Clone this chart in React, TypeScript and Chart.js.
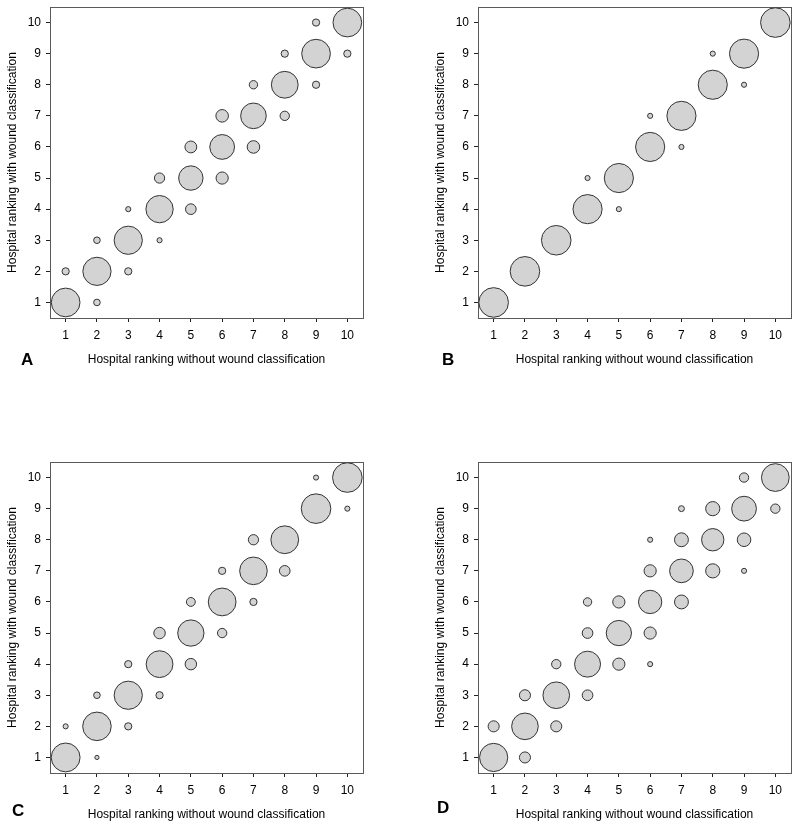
import React, { useEffect, useRef } from "react";
import { Chart, registerables } from "chart.js";

Chart.register(...registerables);

// ---- data ----
const rankTicks = [1, 2, 3, 4, 5, 6, 7, 8, 9, 10];
const xTitle = "Hospital ranking without wound classification";
const yTitle = "Hospital ranking with wound classification";

// share (%) of each (without, with) ranking pair; bubble area is proportional to it
const panelAx = [1, 1, 2, 2, 2, 3, 3, 3, 4, 4, 4, 5, 5, 5, 6, 6, 6, 7, 7, 7, 8, 8, 8, 9, 9, 9, 10, 10];
const panelAy = [1, 2, 1, 2, 3, 2, 3, 4, 3, 4, 5, 4, 5, 6, 5, 6, 7, 6, 7, 8, 7, 8, 9, 8, 9, 10, 9, 10];
const panelAshare = [94, 6, 5, 91, 5, 6, 91, 3, 3, 85, 12, 13, 68, 16, 17, 70, 18, 18, 75, 8, 10, 82, 6, 6, 94, 6, 6, 94];

const panelBx = [1, 2, 3, 4, 4, 5, 5, 6, 6, 7, 7, 8, 8, 9, 9, 10];
const panelBy = [1, 2, 3, 4, 5, 4, 5, 6, 7, 6, 7, 8, 9, 8, 9, 10];
const panelBshare = [100, 100, 100, 97, 3, 3, 97, 97, 3, 3, 97, 97, 3, 3, 97, 100];

const panelCx = [1, 1, 2, 2, 2, 3, 3, 3, 4, 4, 4, 5, 5, 5, 6, 6, 6, 7, 7, 7, 8, 8, 9, 9, 10, 10];
const panelCy = [1, 2, 1, 2, 3, 2, 3, 4, 3, 4, 5, 4, 5, 6, 5, 6, 7, 6, 7, 8, 7, 8, 9, 10, 9, 10];
const panelCshare = [95, 3, 2, 93, 5, 6, 91, 6, 6, 82, 15, 15, 79, 9, 10, 88, 6, 6, 87, 12, 13, 88, 100, 3, 3, 100];

const panelDx = [1, 1, 2, 2, 2, 3, 3, 3, 4, 4, 4, 4, 5, 5, 5, 6, 6, 6, 6, 6, 7, 7, 7, 7, 8, 8, 8, 9, 9, 9, 9, 10, 10];
const panelDy = [1, 2, 1, 2, 3, 2, 3, 4, 3, 4, 5, 6, 4, 5, 6, 4, 5, 6, 7, 8, 6, 7, 8, 9, 7, 8, 9, 7, 8, 9, 10, 9, 10];
const panelDshare = [91, 14, 14, 81, 14, 14, 81, 10, 13, 77, 13, 8, 17, 73, 17, 3, 17, 62, 17, 3, 22, 64, 22, 4, 23, 57, 23, 3, 21, 70, 10, 10, 88];

// ---- styling ----
const FONT = "'Liberation Sans', Arial, Helvetica, sans-serif";
const R_FULL = 14.8;

const framePlugin = {
  id: "frame",
  beforeDatasetsDraw(chart: any) {
    const { ctx, chartArea: a } = chart;
    ctx.save();
    ctx.strokeStyle = "#5a5a5a";
    ctx.lineWidth = 1;
    ctx.strokeRect(Math.round(a.left) + 0.5, Math.round(a.top) + 0.5, Math.round(a.right - a.left), Math.round(a.bottom - a.top));
    ctx.restore();
  },
};

const letterPlugin = {
  id: "panelLetter",
  afterDraw(chart: any, _args: any, opts: any) {
    const { ctx } = chart;
    ctx.save();
    ctx.fillStyle = "#000";
    ctx.font = `bold 17px ${FONT}`;
    ctx.textAlign = "left";
    ctx.textBaseline = "alphabetic";
    ctx.fillText(opts.text, opts.x, opts.y);
    ctx.restore();
  },
};

type PanelProps = {
  xs: number[];
  ys: number[];
  share: number[];
  letter: string;
  left: number;
  top: number;
  letterX: number;
  letterY: number;
};

function zeroPad(s: any) {
  s.paddingTop = 0;
  s.paddingBottom = 0;
  s.paddingLeft = 0;
  s.paddingRight = 0;
}

function Panel({ xs, ys, share, letter, left, top, letterX, letterY }: PanelProps) {
  const ref = useRef<HTMLCanvasElement | null>(null);

  useEffect(() => {
    if (!ref.current) return;
    const tickFont = { family: FONT, size: 12 };
    const setTicks = (s: any) => {
      s.ticks = rankTicks.map((v) => ({ value: v }));
    };
    const chart = new Chart(ref.current, {
      type: "bubble",
      data: {
        datasets: [
          {
            data: xs.map((x, i) => ({ x, y: ys[i], r: R_FULL * Math.sqrt(share[i] / 100) })),
            backgroundColor: "#d3d3d3",
            borderColor: "#333333",
            borderWidth: 1,
            hoverRadius: 0,
            clip: false as any,
          },
        ],
      },
      options: {
        responsive: false,
        animation: false,
        events: [],
        layout: { autoPadding: false, padding: { top: 7, right: 9, left: 0, bottom: 0 } },
        plugins: {
          legend: { display: false },
          tooltip: { enabled: false },
          panelLetter: { text: letter, x: letterX, y: letterY },
        } as any,
        scales: {
          x: {
            type: "linear",
            min: 0.5,
            max: 10.5,
            afterBuildTicks: setTicks,
            afterFit: (s: any) => {
              s.height = 55;
              zeroPad(s);
            },
            grid: { drawOnChartArea: false, drawTicks: true, tickLength: 4, color: "#222" },
            border: { display: false },
            ticks: { padding: 6, color: "#000", font: tickFont, autoSkip: false, maxRotation: 0, callback: (v: any) => String(v) },
            title: { display: true, text: xTitle, color: "#000", font: tickFont, padding: { top: 0, bottom: 6 } },
          },
          y: {
            type: "linear",
            min: 0.5,
            max: 10.5,
            afterBuildTicks: setTicks,
            afterFit: (s: any) => {
              s.width = 50;
              zeroPad(s);
            },
            grid: { drawOnChartArea: false, drawTicks: true, tickLength: 4, color: "#222" },
            border: { display: false },
            ticks: { padding: 5, color: "#000", font: tickFont, autoSkip: false, callback: (v: any) => String(v) },
            title: { display: true, text: yTitle, color: "#000", font: tickFont, padding: { top: 5, bottom: 0 } },
          },
        },
      },
      plugins: [framePlugin, letterPlugin],
    } as any);
    return () => chart.destroy();
  }, [xs, ys, share, letter, letterX, letterY]);

  return (
    <div style={{ position: "absolute", left, top, width: 372, height: 373 }}>
      <canvas ref={ref} width={372} height={373} style={{ display: "block", width: 372, height: 373 }} />
    </div>
  );
}

export default function App() {
  return (
    <div style={{ position: "absolute", left: 0, top: 0, width: 800, height: 828, background: "#fff", overflow: "hidden" }}>
      <Panel xs={panelAx} ys={panelAy} share={panelAshare} letter="A" left={0} top={0} letterX={21} letterY={365} />
      <Panel xs={panelBx} ys={panelBy} share={panelBshare} letter="B" left={428} top={0} letterX={14} letterY={365} />
      <Panel xs={panelCx} ys={panelCy} share={panelCshare} letter="C" left={0} top={455} letterX={12} letterY={361} />
      <Panel xs={panelDx} ys={panelDy} share={panelDshare} letter="D" left={428} top={455} letterX={9} letterY={358} />
    </div>
  );
}
